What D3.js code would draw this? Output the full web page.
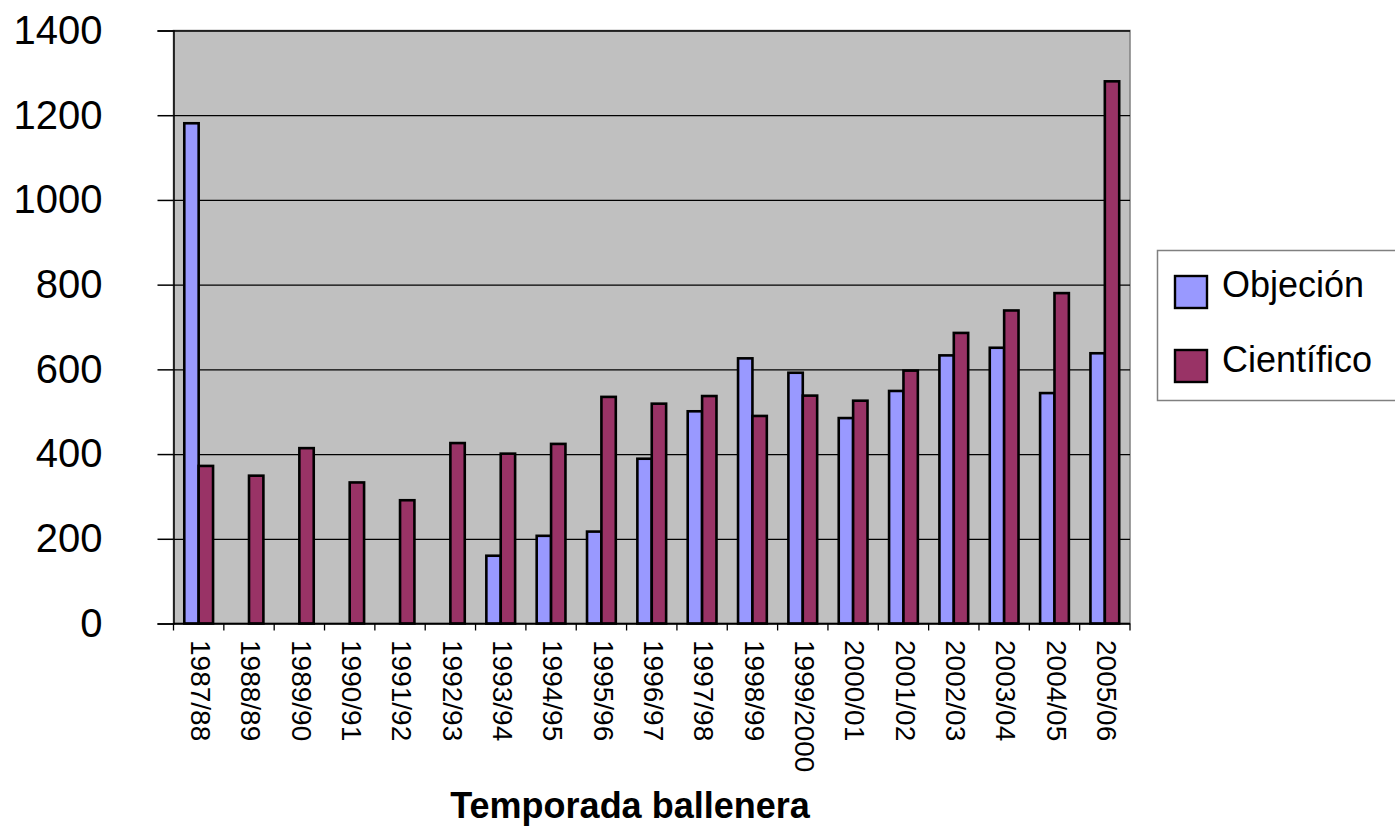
<!DOCTYPE html>
<html lang="es">

<head>
  <meta charset="UTF-8">
  <title>Temporada ballenera</title>
  <script src="https://cdn.jsdelivr.net/npm/d3@7.6.1/dist/d3.min.js"></script>
  <style>
    body {
      margin: 0;
      background: #fff;
    }

    svg {
      display: block;
      font-family: "Liberation Sans", Arial, sans-serif;
    }
  </style>
</head>

<body>
  <div id="chart"></div>
  <script>
    const categories = ['1987/88', '1988/89', '1989/90', '1990/91', '1991/92', '1992/93', '1993/94',
      '1994/95', '1995/96', '1996/97', '1997/98', '1998/99', '1999/2000', '2000/01', '2001/02',
      '2002/03', '2003/04', '2004/05', '2005/06']
    // null = no bar that season
    const objecion = [1181, null, null, null, null, null, 160, 207, 217, 389, 501, 626, 592, 485, 549, 633, 651, 544, 638]
    const cientifico = [372, 349, 414, 333, 291, 426, 401, 424, 535, 519, 537, 490, 538, 526, 597, 686, 739, 780, 1280]
    const yTicks = [0, 200, 400, 600, 800, 1000, 1200, 1400]
    const seriesNames = ['Objeción', 'Científico']
    const colors = ['#9999ff', '#993366']

    const width = 1395
    const height = 830
    const plot = { left: 173.5, right: 1130, top: 30.5, bottom: 623.5 }

    const svg = d3.select('#chart').append('svg')
      .attr('width', width)
      .attr('height', height)

    const x = d3.scaleBand().domain(categories).range([plot.left, plot.right]).padding(0)
    const y = d3.scaleLinear().domain([0, 1400]).range([plot.bottom, plot.top])
    const bw = x.bandwidth()

    // plot area
    svg.append('rect')
      .attr('x', plot.left).attr('y', plot.top)
      .attr('width', plot.right - plot.left).attr('height', plot.bottom - plot.top)
      .attr('fill', '#c0c0c0')
      .attr('stroke', '#808080')
      .attr('stroke-width', 1.5)

    // gridlines
    svg.append('g')
      .attr('transform', `translate(${plot.left},0)`)
      .call(d3.axisLeft(y).tickValues(yTicks).tickSize(-(plot.right - plot.left)).tickFormat(''))
      .call(g => g.select('.domain').remove())
      .call(g => g.selectAll('line').attr('stroke', '#000').attr('stroke-width', 1.3))

    // bars
    const series = [objecion, cientifico]
    series.forEach((values, s) => {
      svg.append('g').selectAll('rect')
        .data(categories.map((c, i) => ({ c, v: values[i] })).filter(d => d.v != null))
        .enter().append('rect')
        .attr('x', d => x(d.c) + bw * 0.2143 + s * bw * 0.2857)
        .attr('y', d => y(d.v))
        .attr('width', bw * 0.2857)
        .attr('height', d => y(0) - y(d.v))
        .attr('fill', colors[s])
        .attr('stroke', '#000')
        .attr('stroke-width', 2.6)
    })

    // y axis
    svg.append('g')
      .attr('transform', `translate(${plot.left},0)`)
      .call(d3.axisLeft(y).tickValues(yTicks).tickSize(16).tickPadding(55).tickFormat(d3.format('d')))
      .call(g => g.selectAll('line, path').attr('stroke', '#000').attr('stroke-width', 1.5))
      .call(g => g.selectAll('text').attr('font-size', 40).attr('fill', '#000')
        .attr('font-family', '"Liberation Sans", Arial, sans-serif'))

    // x axis: ticks between categories
    const xBounds = categories.map(c => x(c)).concat([plot.right])
    svg.append('line')
      .attr('x1', plot.left).attr('x2', plot.right)
      .attr('y1', plot.bottom).attr('y2', plot.bottom)
      .attr('stroke', '#000').attr('stroke-width', 1.5)
    svg.append('g').selectAll('line').data(xBounds)
      .enter().append('line')
      .attr('x1', d => d).attr('x2', d => d)
      .attr('y1', plot.bottom).attr('y2', plot.bottom + 7)
      .attr('stroke', '#000').attr('stroke-width', 1.3)

    svg.append('g').selectAll('text').data(categories)
      .enter().append('text')
      .attr('transform', d => `translate(${x(d) + bw / 2 + 2},640) rotate(90)`)
      .attr('dy', '0.35em')
      .attr('font-size', 28)
      .attr('fill', '#000')
      .text(d => d)

    // axis title
    svg.append('text')
      .attr('x', 630).attr('y', 818)
      .attr('text-anchor', 'middle')
      .attr('font-size', 36)
      .attr('font-weight', 'bold')
      .text('Temporada ballenera')

    // legend
    const legend = svg.append('g')
    legend.append('rect')
      .attr('x', 1157.5).attr('y', 250.5)
      .attr('width', 260).attr('height', 150)
      .attr('fill', '#fff')
      .attr('stroke', '#808080')
      .attr('stroke-width', 1.5)
    legend.selectAll('.sw').data(seriesNames)
      .enter().append('rect')
      .attr('x', 1175).attr('y', (d, i) => 276 + i * 74)
      .attr('width', 32).attr('height', 32)
      .attr('fill', (d, i) => colors[i])
      .attr('stroke', '#000')
      .attr('stroke-width', 2.4)
    legend.selectAll('text').data(seriesNames)
      .enter().append('text')
      .attr('x', 1222).attr('y', (d, i) => 297 + i * 75)
      .attr('font-size', 36)
      .attr('fill', '#000')
      .text(d => d)
  </script>
</body>

</html>
